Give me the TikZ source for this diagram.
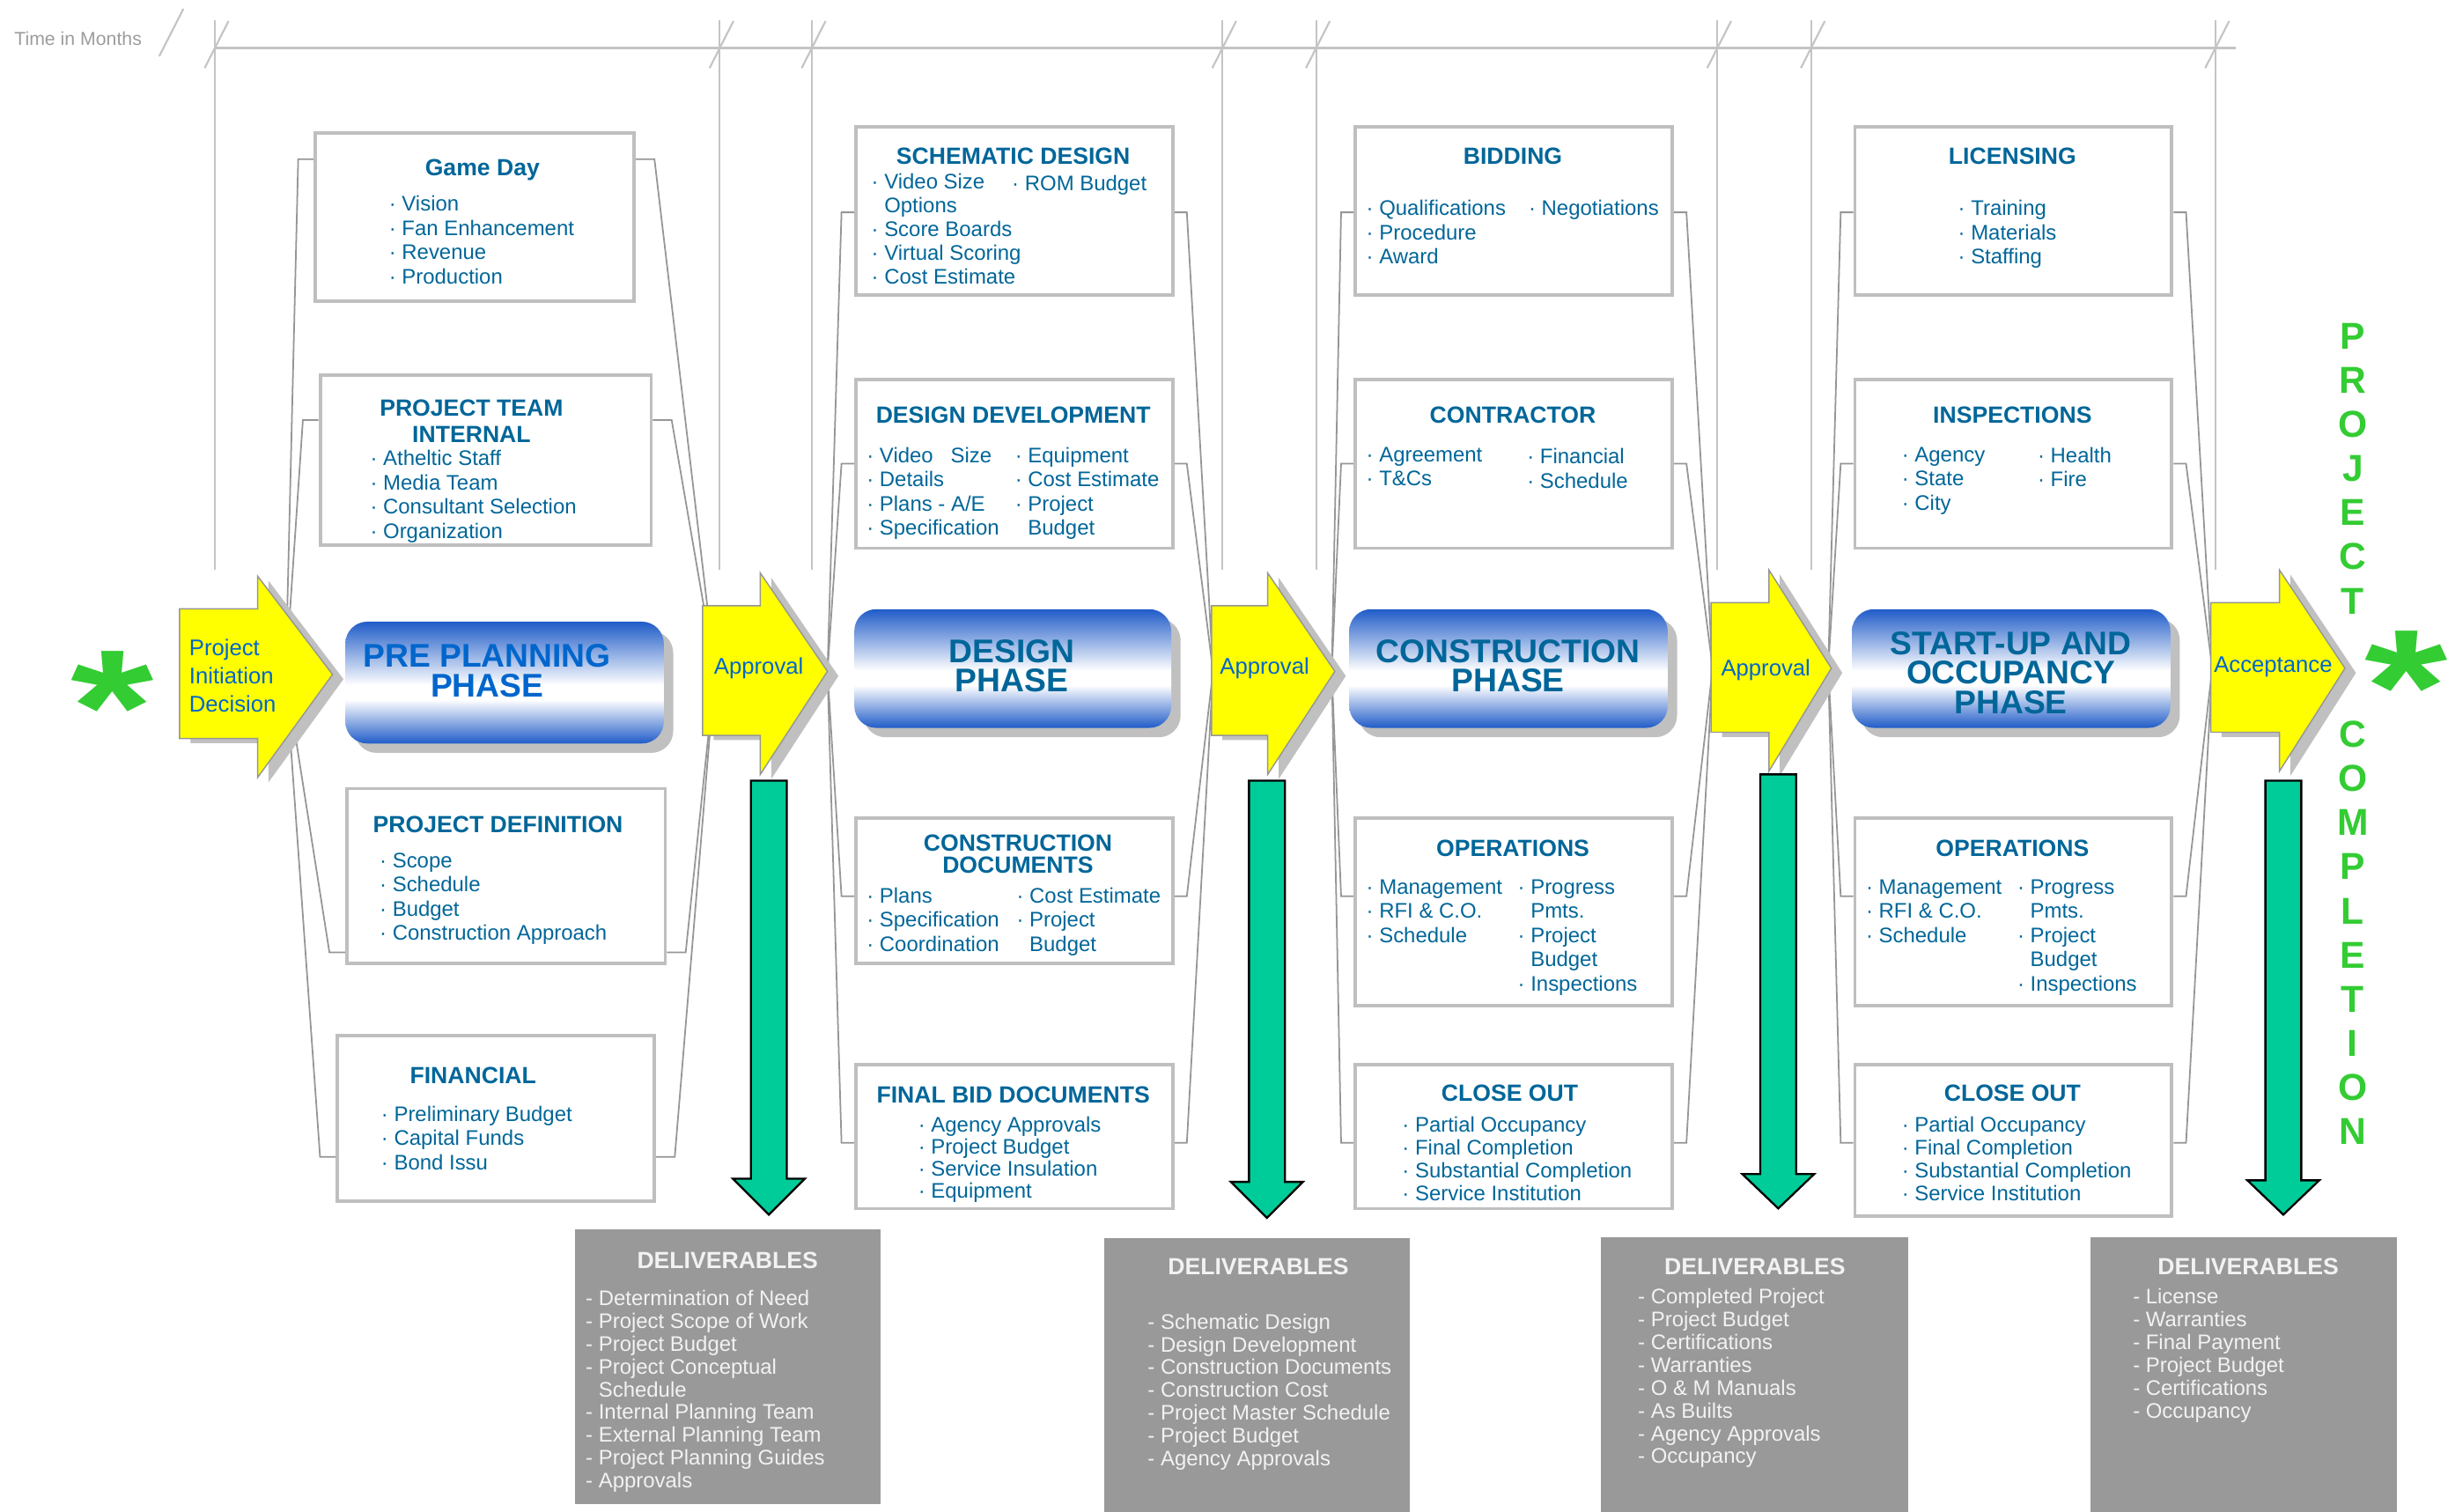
\documentclass[tikz,border=0pt]{standalone}
\usepackage{fontspec}
\setmainfont{Liberation Sans}
\usetikzlibrary{shapes, arrows.meta, positioning, calc, shadows, backgrounds}

\definecolor{boxblue}{RGB}{0,102,153}
\definecolor{brightblue}{RGB}{0,102,204}
\definecolor{shadeblue}{RGB}{32,92,200}
\definecolor{boxgray}{RGB}{191,191,191}
\definecolor{linegray}{RGB}{150,150,150}
\definecolor{tickgray}{RGB}{196,196,196}
\definecolor{shadowgray}{RGB}{192,192,192}
\definecolor{delivgray}{RGB}{153,153,153}
\definecolor{delivtext}{RGB}{242,242,242}
\definecolor{approvalyellow}{RGB}{255,255,0}
\definecolor{deliverygreen}{RGB}{0,204,153}
\definecolor{donegreen}{RGB}{51,204,51}

\pgfdeclareverticalshading{phaseshade}{100bp}{color(0bp)=(shadeblue); color(25bp)=(shadeblue); color(43bp)=(white); color(49bp)=(white); color(75bp)=(shadeblue); color(100bp)=(shadeblue)}

\newcommand{\bul}{·\ }
\newcommand{\ind}{\hphantom{·\ }}
\newcommand{\dsh}{\hphantom{-\ }}

% yellow milestone arrow: left x, neck x, tip x, mid y
\newcommand{\yarrow}[4]{%
  \filldraw[yarrow] (#1,#4-42) -- (#2,#4-42) -- (#2,#4-63) -- (#3,#4) -- (#2,#4+66) -- (#2,#4+41) -- (#1,#4+41) -- cycle;}
% green deliverable arrow: mid x, top y, neck y, tip y
\newcommand{\garrow}[4]{%
  \filldraw[garrow] (#1-11.5,#2) -- (#1+11.5,#2) -- (#1+11.5,#3) -- (#1+23,#3) -- (#1,#4) -- (#1-23,#3) -- (#1-11.5,#3) -- cycle;}

\tikzset{
  infobox/.style={draw=boxgray, line width=2.2pt, fill=white, anchor=north west, inner sep=0pt},
  phasebox/.style={rounded corners=14pt, shade, shading=phaseshade, anchor=north west, inner sep=0pt,
    drop shadow={shadow xshift=6pt, shadow yshift=-6pt, fill=shadowgray, opacity=1}},
  head/.style={font=\fontsize{15}{17}\selectfont\bfseries, text=boxblue, anchor=north, inner sep=0pt, align=center},
  items/.style={font=\fontsize{13.5}{15.5}\selectfont, text=boxblue, anchor=north west, inner sep=0pt, align=left},
  phasetext/.style={font=\fontsize{21}{19}\selectfont\bfseries, text=boxblue, align=center, inner sep=0pt},
  conn/.style={draw=linegray, line width=1pt},
  yarrow/.style={fill=approvalyellow, draw=linegray, line width=0.8pt,
    drop shadow={shadow xshift=7pt, shadow yshift=-3pt, fill=shadowgray, opacity=1}},
  arrowtext/.style={font=\fontsize{14.5}{18}\selectfont, text=brightblue, inner sep=0pt},
  garrow/.style={fill=deliverygreen, draw=black, line width=1.3pt},
  delivbox/.style={fill=delivgray, anchor=north west, inner sep=0pt},
  delivhead/.style={font=\fontsize{15}{17}\selectfont\bfseries, text=delivtext, inner sep=0pt, anchor=north},
  delivitems/.style={font=\fontsize{13.5}{14.6}\selectfont, text=delivtext, anchor=north west, inner sep=0pt, align=left},
  tick/.style={draw=tickgray, line width=1.2pt},
  donetext/.style={font=\fontsize{24}{28.3}\selectfont\bfseries, text=donegreen, align=center, inner sep=0pt},
  star/.style={font=\fontsize{130}{130}\selectfont\bfseries, text=donegreen, inner sep=0pt, anchor=base}
}

\begin{document}
\begin{tikzpicture}[x=1pt, y=-1pt]
  \useasboundingbox (0,0) rectangle (1568,968);

  % time axis
  \node[font=\fontsize{12}{14}\selectfont, text=tickgray!80!black, inner sep=0pt] (time) at (50,24.5) {Time in Months};
  \draw[tick] (102,36) -- (117.5,5.6);
  \draw[tick, line width=1.8pt] (137.6,30.6) -- (1432,30.6);
  \foreach \x in {137.6, 461, 520, 783, 843, 1100, 1160, 1419}{
    \draw[tick] (\x,13) -- (\x,365);
    \draw[tick] (\x-6.5,43.6) -- (\x+8.8,13.5);
  }

  % milestone arrows
  \yarrow{115}{165}{213}{432}
  \yarrow{450}{487}{530}{430}
  \yarrow{776}{812}{855}{430}
  \yarrow{1096}{1133}{1173}{428}
  \yarrow{1416}{1460}{1502}{428}
  \node[arrowtext, anchor=west, align=left] (start) at (121,433) {Project\\Initiation\\Decision};
  \node[arrowtext] (appr1) at (486,428) {Approval};
  \node[arrowtext] (appr2) at (810,428) {Approval};
  \node[arrowtext] (appr3) at (1131,429) {Approval};
  \node[arrowtext] (accept) at (1456,427) {Acceptance};

  % where the bracket lines meet
  \coordinate (pp-l) at (183,432);
  \coordinate (pp-r) at (458,430);
  \coordinate (dp-l) at (530,430);
  \coordinate (dp-r) at (777,430);
  \coordinate (cp-l) at (853,430);
  \coordinate (cp-r) at (1097,428);
  \coordinate (sp-l) at (1171,428);
  \coordinate (sp-r) at (1417,428);

  % deliverable arrows
  \garrow{492.5}{500}{755}{778}
  \garrow{811.5}{500}{757}{780}
  \garrow{1139}{496}{752}{774}
  \garrow{1462.5}{500}{756}{778}

  % pre planning column
  \node[infobox, minimum width=204pt, minimum height=108pt] (gd) at (201,84) {};
  \node[head] (gd-h) at (309,101.6) {Game Day};
  \node[items] (gd-i) at (249,125.2) {\bul Vision\\\bul Fan Enhancement\\\bul Revenue\\\bul Production};

  \node[infobox, minimum width=212pt, minimum height=109pt] (ptm) at (204,239) {};
  \node[head] (ptm-h) at (302,255.6) {PROJECT TEAM\\INTERNAL};
  \node[items] (ptm-i) at (237,288.2) {\bul Atheltic Staff\\\bul Media Team\\\bul Consultant Selection\\\bul Organization};

  \node[phasebox, minimum width=204pt, minimum height=78pt] (pp) at (221,398) {};
  \node[phasetext, text=brightblue] (pp-t) at (312,429.5) {PRE PLANNING\\PHASE};

  \node[infobox, minimum width=204pt, minimum height=112pt] (pdef) at (221,504) {};
  \node[head] (pdef-h) at (319,522.6) {PROJECT DEFINITION};
  \node[items] (pdef-i) at (243,546.2) {\bul Scope\\\bul Schedule\\\bul Budget\\\bul Construction Approach};

  \node[infobox, minimum width=203pt, minimum height=106pt] (fin) at (215,662) {};
  \node[head] (fin-h) at (303,683.6) {FINANCIAL};
  \node[items] (fin-i) at (244,708.2) {\bul Preliminary Budget\\\bul Capital Funds\\\bul Bond Issu};

  % design column
  \node[infobox, minimum width=203pt, minimum height=108pt] (sd) at (547,80) {};
  \node[head] (sd-h) at (649,94.6) {SCHEMATIC DESIGN};
  \node[items, font=\fontsize{13.5}{15.25}\selectfont] (sd-i) at (558,111.2) {\bul Video Size\\\ind Options\\\bul Score Boards\\\bul Virtual Scoring\\\bul Cost Estimate};
  \node[items] (sd-j) at (648,112.2) {\bul ROM Budget};

  \node[infobox, minimum width=203pt, minimum height=108pt] (dd) at (547,242) {};
  \node[head] (dd-h) at (649,260.6) {DESIGN DEVELOPMENT};
  \node[items] (dd-i) at (555,286.2) {\bul Video\ \ \ Size\\\bul Details\\\bul Plans - A/E\\\bul Specification};
  \node[items] (dd-j) at (650,286.2) {\bul Equipment\\\bul Cost Estimate\\\bul Project\\\ind Budget};

  \node[phasebox, minimum width=203pt, minimum height=76pt] (dp) at (547,390) {};
  \node[phasetext] (dp-t) at (648,426.5) {DESIGN\\PHASE};

  \node[infobox, minimum width=203pt, minimum height=93pt] (cd) at (547,523) {};
  \node[head, font=\fontsize{15}{14.3}\selectfont\bfseries] (cd-h) at (652,534.2) {CONSTRUCTION\\DOCUMENTS};
  \node[items] (cd-i) at (555,568.2) {\bul Plans\\\bul Specification\\\bul Coordination};
  \node[items] (cd-j) at (651,568.2) {\bul Cost Estimate\\\bul Project\\\ind Budget};

  \node[infobox, minimum width=203pt, minimum height=92pt] (fbd) at (547,681) {};
  \node[head] (fbd-h) at (649,695.6) {FINAL BID DOCUMENTS};
  \node[items, font=\fontsize{13.5}{14}\selectfont] (fbd-i) at (588,715.2) {\bul Agency Approvals\\\bul Project Budget\\\bul Service Insulation\\\bul Equipment};

  % construction column
  \node[infobox, minimum width=203pt, minimum height=108pt] (bid) at (867,80) {};
  \node[head] (bid-h) at (969,94.6) {BIDDING};
  \node[items] (bid-i) at (875,128.2) {\bul Qualifications\\\bul Procedure\\\bul Award};
  \node[items] (bid-j) at (979,128.2) {\bul Negotiations};

  \node[infobox, minimum width=203pt, minimum height=108pt] (con) at (867,242) {};
  \node[head] (con-h) at (969,260.6) {CONTRACTOR};
  \node[items] (con-i) at (875,286.2) {\bul Agreement\\\bul T\&Cs};
  \node[items] (con-j) at (978,287.2) {\bul Financial\\\bul Schedule};

  \node[phasebox, minimum width=204pt, minimum height=76pt] (cp) at (864,390) {};
  \node[phasetext] (cp-t) at (966,426.5) {CONSTRUCTION\\PHASE};

  \node[infobox, minimum width=203pt, minimum height=120pt] (ops3) at (867,523) {};
  \node[head] (ops3-h) at (969,537.6) {OPERATIONS};
  \node[items] (ops3-i) at (875,563.2) {\bul Management\\\bul RFI \& C.O.\\\bul Schedule};
  \node[items] (ops3-j) at (972,563.2) {\bul Progress\\\ind Pmts.\\\bul Project\\\ind Budget\\\bul Inspections};

  \node[infobox, minimum width=203pt, minimum height=92pt] (clo3) at (867,681) {};
  \node[head] (clo3-h) at (967,694.6) {CLOSE OUT};
  \node[items, font=\fontsize{13.5}{14.6}\selectfont] (clo3-i) at (898,715.2) {\bul Partial Occupancy\\\bul Final Completion\\\bul Substantial Completion\\\bul Service Institution};

  % start-up column
  \node[infobox, minimum width=203pt, minimum height=108pt] (lic) at (1187,80) {};
  \node[head] (lic-h) at (1289,94.6) {LICENSING};
  \node[items] (lic-i) at (1254,128.2) {\bul Training\\\bul Materials\\\bul Staffing};

  \node[infobox, minimum width=203pt, minimum height=108pt] (insp) at (1187,242) {};
  \node[head] (insp-h) at (1289,260.6) {INSPECTIONS};
  \node[items] (insp-i) at (1218,286.2) {\bul Agency\\\bul State\\\bul City};
  \node[items] (insp-j) at (1305,286.2) {\bul Health\\\bul Fire};

  \node[phasebox, minimum width=204pt, minimum height=76pt] (sp) at (1186,390) {};
  \node[phasetext] (sp-t) at (1288,431) {START-UP AND\\OCCUPANCY\\PHASE};

  \node[infobox, minimum width=203pt, minimum height=120pt] (ops4) at (1187,523) {};
  \node[head] (ops4-h) at (1289,537.6) {OPERATIONS};
  \node[items] (ops4-i) at (1195,563.2) {\bul Management\\\bul RFI \& C.O.\\\bul Schedule};
  \node[items] (ops4-j) at (1292,563.2) {\bul Progress\\\ind Pmts.\\\bul Project\\\ind Budget\\\bul Inspections};

  \node[infobox, minimum width=203pt, minimum height=97pt] (clo4) at (1187,681) {};
  \node[head] (clo4-h) at (1289,694.6) {CLOSE OUT};
  \node[items, font=\fontsize{13.5}{14.6}\selectfont] (clo4-i) at (1218,715.2) {\bul Partial Occupancy\\\bul Final Completion\\\bul Substantial Completion\\\bul Service Institution};

  % deliverables
  \node[delivbox, minimum width=196pt, minimum height=176pt] (del1) at (368,787) {};
  \node[delivhead] (del1-h) at (466,801.6) {DELIVERABLES};
  \node[delivitems] (del1-i) at (375,826.2) {- Determination of Need\\- Project Scope of Work\\- Project Budget\\- Project Conceptual\\\dsh Schedule\\- Internal Planning Team\\- External Planning Team\\- Project Planning Guides\\- Approvals};

  \node[delivbox, minimum width=196pt, minimum height=175pt] (del2) at (707,793) {};
  \node[delivhead] (del2-h) at (806,805.6) {DELIVERABLES};
  \node[delivitems] (del2-i) at (735,841.2) {- Schematic Design\\- Design Development\\- Construction Documents\\- Construction Cost\\- Project Master Schedule\\- Project Budget\\- Agency Approvals};

  \node[delivbox, minimum width=197pt, minimum height=176pt] (del3) at (1025,792) {};
  \node[delivhead] (del3-h) at (1124,805.6) {DELIVERABLES};
  \node[delivitems] (del3-i) at (1049,825.2) {- Completed Project\\- Project Budget\\- Certifications\\- Warranties\\- O \& M Manuals\\- As Builts\\- Agency Approvals\\- Occupancy};

  \node[delivbox, minimum width=196pt, minimum height=176pt] (del4) at (1339,792) {};
  \node[delivhead] (del4-h) at (1440,805.6) {DELIVERABLES};
  \node[delivitems] (del4-i) at (1366,825.2) {- License\\- Warranties\\- Final Payment\\- Project Budget\\- Certifications\\- Occupancy};

  % start and finish marks
  \node[star] (go) at (72,489) {\scalebox{1.05}[0.8]{*}};
  \node[star] (done) at (1541,476) {\scalebox{1.05}[0.8]{*}};
  \node[donetext] (proj) at (1507,300) {P\\R\\O\\J\\E\\C\\T};
  \node[donetext] (compl) at (1507,597.5) {C\\O\\M\\P\\L\\E\\T\\I\\O\\N};

  % bracket lines behind everything
  \begin{scope}[on background layer]
    \fill[white] (0,0) rectangle (1568,968);
    \foreach \nm/\yy in {gd/102, ptm/269, pdef/610, fin/741}{
      \draw[conn] (\nm.west |- 0,\yy) -- ++(-10,0) -- (pp-l);
      \draw[conn] (\nm.east |- 0,\yy) -- ++(12,0) -- (pp-r);
    }
    \foreach \nm/\ph/\yy in {sd/dp/136, dd/dp/297, cd/dp/574, fbd/dp/732,
                             bid/cp/136, con/cp/297, ops3/cp/574, clo3/cp/732,
                             lic/sp/136, insp/sp/297, ops4/sp/574, clo4/sp/732}{
      \draw[conn] (\nm.west |- 0,\yy) -- ++(-8,0) -- (\ph-l);
      \draw[conn] (\nm.east |- 0,\yy) -- ++(8,0) -- (\ph-r);
    }
  \end{scope}
\end{tikzpicture}
\end{document}
